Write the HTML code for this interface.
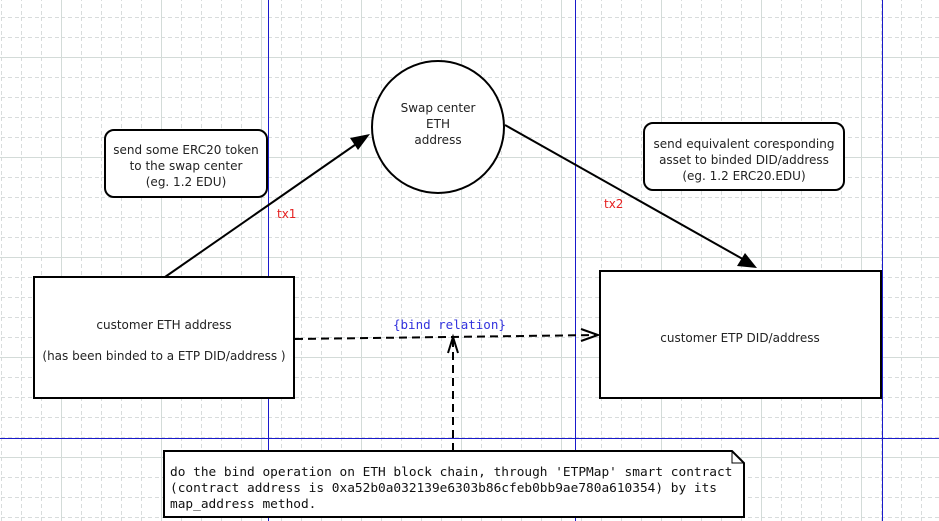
<!DOCTYPE html>
<html><head><meta charset="utf-8"><style>
html,body{margin:0;padding:0;background:#fff;}
svg{display:block;}
.s{font-family:"DejaVu Sans","Liberation Sans",sans-serif;font-size:12px;fill:#222;}
.m{font-family:"DejaVu Sans Mono","Liberation Mono",monospace;font-size:12.8px;fill:#111;}
</style></head><body>
<svg width="939" height="521" viewBox="0 0 939 521" xmlns="http://www.w3.org/2000/svg">
<defs>
<pattern id="g" x="1" y="17" width="20" height="20" patternUnits="userSpaceOnUse">
<path d="M0.5 0V20M0 0.5H20" stroke="#d8dcdc" stroke-width="1" stroke-dasharray="4,3" fill="none"/>
</pattern>
<pattern id="G" x="61" y="57" width="100" height="100" patternUnits="userSpaceOnUse">
<path d="M0.5 0V100M0 0.5H100" stroke="#d3dbd8" stroke-width="1" fill="none"/>
</pattern>
</defs>
<rect width="939" height="521" fill="#fff"/>
<rect width="939" height="521" fill="url(#g)"/>
<rect width="939" height="521" fill="url(#G)"/>
<g stroke="#1a1acc" stroke-width="1">
<line x1="268.5" y1="0" x2="268.5" y2="521"/>
<line x1="575.5" y1="0" x2="575.5" y2="521"/>
<line x1="882.5" y1="0" x2="882.5" y2="521"/>
<line x1="0" y1="438.5" x2="939" y2="438.5"/>
</g>
<line x1="165" y1="277" x2="362" y2="140" stroke="#000" stroke-width="2"/>
<polygon points="370,134 350,138 358,150" fill="#000"/>
<line x1="505" y1="125" x2="748" y2="262" stroke="#000" stroke-width="2"/>
<polygon points="757,268 737,266 745,253" fill="#000"/>
<text x="277" y="218" font-family="DejaVu Sans,sans-serif" font-size="12" fill="#e52222">tx1</text>
<text x="604" y="208" font-family="DejaVu Sans,sans-serif" font-size="12" fill="#e52222">tx2</text>
<path d="M295 339 L598 335" stroke="#000" stroke-width="2" stroke-dasharray="8,5" fill="none"/>
<path d="M581 329 L598 335 L581 341" stroke="#000" stroke-width="2" fill="none"/>
<path d="M453 451 L453 339" stroke="#000" stroke-width="2" stroke-dasharray="8,5" fill="none"/>
<path d="M448 353 L453 337 L458 353" stroke="#000" stroke-width="2" fill="none"/>
<text x="393" y="329" font-family="DejaVu Sans Mono,monospace" font-size="12.5" fill="#3333dd">{bind relation}</text>
<rect x="34" y="277" width="260" height="121" fill="#fff" stroke="#000" stroke-width="2"/>
<text class="s" x="164" y="329" text-anchor="middle">customer ETH address</text>
<text class="s" x="164" y="360" text-anchor="middle">(has been binded to a ETP DID/address )</text>
<rect x="105" y="130" width="162" height="67" rx="9" fill="#fff" stroke="#000" stroke-width="2"/>
<text class="s" x="186" y="154" text-anchor="middle">send some ERC20 token</text>
<text class="s" x="186" y="170" text-anchor="middle">to the swap center</text>
<text class="s" x="186" y="186" text-anchor="middle">(eg. 1.2 EDU)</text>
<circle cx="438" cy="127" r="66" fill="#fff" stroke="#000" stroke-width="2"/>
<text class="s" x="438" y="112" text-anchor="middle">Swap center</text>
<text class="s" x="438" y="128" text-anchor="middle">ETH</text>
<text class="s" x="438" y="144" text-anchor="middle">address</text>
<rect x="644" y="123" width="200" height="67" rx="9" fill="#fff" stroke="#000" stroke-width="2"/>
<text class="s" x="744" y="148" text-anchor="middle">send equivalent coresponding</text>
<text class="s" x="744" y="164" text-anchor="middle">asset to binded DID/address</text>
<text class="s" x="744" y="180" text-anchor="middle">(eg. 1.2 ERC20.EDU)</text>
<rect x="600" y="271" width="281" height="127" fill="#fff" stroke="#000" stroke-width="2"/>
<text class="s" x="740" y="342" text-anchor="middle">customer ETP DID/address</text>
<path d="M164 451 H732 L744 463 V517 H164 Z" fill="#fff" stroke="#000" stroke-width="2"/>
<path d="M732 451 V463 H744" fill="none" stroke="#000" stroke-width="1"/>
<text class="m" x="170" y="476">do the bind operation on ETH block chain, through 'ETPMap' smart contract</text>
<text class="m" x="170" y="492">(contract address is 0xa52b0a032139e6303b86cfeb0bb9ae780a610354) by its</text>
<text class="m" x="170" y="508">map_address method.</text>
</svg>
</body></html>
